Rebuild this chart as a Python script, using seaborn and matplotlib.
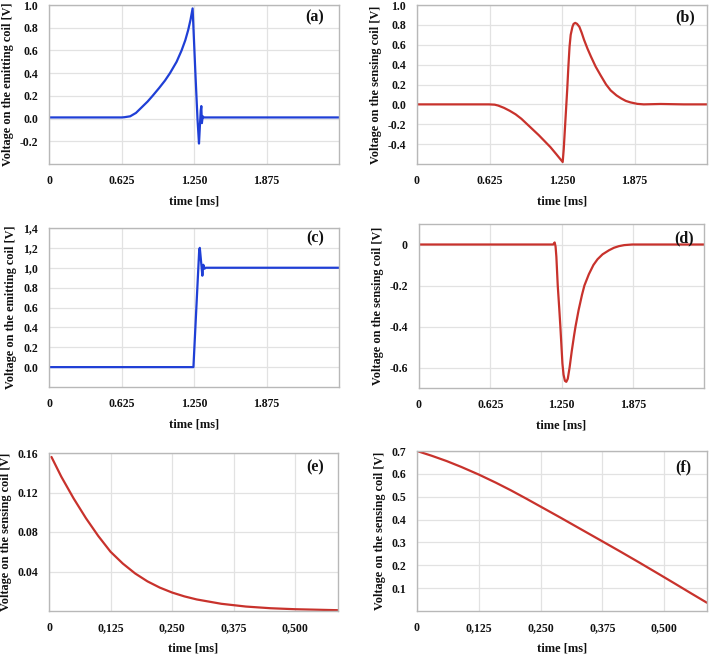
import numpy as np
import pandas as pd
import matplotlib
matplotlib.use("Agg")
import matplotlib.pyplot as plt
import seaborn as sns

# ---------------- data ----------------
t_a = [0.0, 0.625, 0.65, 0.70, 0.75, 0.80, 0.85, 0.893, 0.95, 1.00, 1.043,
       1.10, 1.143, 1.175, 1.20, 1.22, 1.238,
       1.262, 1.28, 1.293, 1.300, 1.308, 1.313, 1.318, 1.325, 1.335, 2.5]
v_a = [0.01, 0.01, 0.012, 0.02, 0.05, 0.10, 0.15, 0.20, 0.27, 0.335, 0.40,
       0.50, 0.60, 0.69, 0.78, 0.87, 0.97,
       0.40, 0.0, -0.22, -0.08, 0.07, 0.11, -0.04, 0.02, 0.01, 0.01]

t_b = [0.0, 0.62, 0.67, 0.70, 0.75, 0.80, 0.85, 0.90, 0.95, 1.00, 1.05,
       1.10, 1.15, 1.20, 1.256,
       1.265, 1.275, 1.285, 1.295, 1.305, 1.315, 1.325, 1.34, 1.35, 1.364,
       1.38, 1.40, 1.42, 1.44, 1.47, 1.50, 1.54, 1.584, 1.63, 1.67, 1.72,
       1.76, 1.80, 1.84, 1.90, 1.955, 2.10, 2.30, 2.5]
v_b = [0.0, 0.0, -0.003, -0.012, -0.035, -0.065, -0.10, -0.145, -0.20, -0.255, -0.31,
       -0.37, -0.43, -0.50, -0.58,
       -0.45, -0.25, -0.05, 0.15, 0.38, 0.58, 0.70, 0.78, 0.81, 0.82,
       0.81, 0.78, 0.72, 0.65, 0.56, 0.48, 0.38, 0.29, 0.20, 0.14, 0.09,
       0.06, 0.035, 0.02, 0.005, 0.0, 0.004, 0.0, 0.0]

t_c = [0.0, 1.245, 1.295, 1.300, 1.312, 1.322, 1.330, 1.340, 1.350, 2.5]
v_c = [0.0, 0.0, 1.18, 1.20, 1.05, 0.92, 1.03, 0.99, 1.0, 1.0]

t_d = [0.0, 1.177, 1.19, 1.198, 1.205, 1.217, 1.23, 1.240, 1.25, 1.258,
       1.268, 1.28, 1.292, 1.305, 1.321, 1.34, 1.36, 1.373, 1.40, 1.43,
       1.451, 1.49, 1.53, 1.566, 1.61, 1.667, 1.71, 1.754, 1.80, 1.869, 2.5]
v_d = [0.0, 0.0, 0.01, -0.01, -0.06, -0.20, -0.31, -0.40, -0.50, -0.58,
       -0.635, -0.665, -0.67, -0.655, -0.60, -0.52, -0.445, -0.40, -0.32, -0.245,
       -0.20, -0.145, -0.10, -0.072, -0.048, -0.028, -0.016, -0.008, -0.003, 0.0, 0.0]

t_e = [0.005, 0.025, 0.05, 0.075, 0.10, 0.125, 0.15, 0.175, 0.20, 0.225,
       0.25, 0.275, 0.30, 0.35, 0.40, 0.45, 0.50, 0.587]
v_e = [0.156, 0.136, 0.114, 0.094, 0.076, 0.060, 0.048, 0.038, 0.030, 0.0237,
       0.0187, 0.0148, 0.0117, 0.0073, 0.0045, 0.0028, 0.0018, 0.0008]

t_f = [0.0, 0.03, 0.06, 0.09, 0.125, 0.16, 0.19, 0.22, 0.25, 0.29, 0.33,
       0.375, 0.41, 0.45, 0.49, 0.525, 0.555, 0.587]
v_f = [0.700, 0.679, 0.656, 0.630, 0.597, 0.561, 0.528, 0.493, 0.457, 0.409, 0.360,
       0.305, 0.262, 0.212, 0.161, 0.116, 0.077, 0.036]

xt_ms = [0, 0.625, 1.25, 1.875]
xt_ms_lbl = ["0", "0.625", "1.250", "1.875"]
xt_us = [0, 0.125, 0.25, 0.375, 0.5]
xt_us_lbl = ["0", "0,125", "0,250", "0,375", "0,500"]

yt_a = [-0.2, 0.0, 0.2, 0.4, 0.6, 0.8, 1.0]
yt_a_lbl = ["-0.2", "0.0", "0.2", "0.4", "0.6", "0.8", "1.0"]
yt_b = [-0.4, -0.2, 0.0, 0.2, 0.4, 0.6, 0.8, 1.0]
yt_b_lbl = ["-0.4", "-0.2", "0.0", "0.2", "0.4", "0.6", "0.8", "1.0"]
yt_c = [0.0, 0.2, 0.4, 0.6, 0.8, 1.0, 1.2, 1.4]
yt_c_lbl = ["0.0", "0.2", "0.4", "0.6", "0.8", "1,0", "1,2", "1,4"]
yt_d = [0, -0.2, -0.4, -0.6]
yt_d_lbl = ["0", "-0.2", "-0.4", "-0.6"]
yt_e = [0.04, 0.08, 0.12, 0.16]
yt_e_lbl = ["0.04", "0.08", "0.12", "0.16"]
yt_f = [0.1, 0.2, 0.3, 0.4, 0.5, 0.6, 0.7]
yt_f_lbl = ["0.1", "0.2", "0.3", "0.4", "0.5", "0.6", "0.7"]

BLUE = "#1f3fd6"
RED = "#c8322c"

sns.set_style("whitegrid")
plt.rcParams["font.family"] = ["Liberation Serif", "DejaVu Serif"]

W, H = 710, 656
fig = plt.figure(figsize=(W / 100, H / 100), dpi=100)


def box(l, r, t, b):
    return [l / W, 1 - b / H, (r - l) / W, (b - t) / H]


panels = [
    dict(pos=box(49, 339, 5, 164), t=t_a, v=v_a, c=BLUE, xl=(0, 2.5), yl=(-0.4, 1.0),
         xt=xt_ms, xtl=xt_ms_lbl, yt=yt_a, ytl=yt_a_lbl,
         ylab="Voltage on the emitting coil [V]", tag="(a)", tp=(0.917, 0.925)),
    dict(pos=box(417, 707, 5, 164), t=t_b, v=v_b, c=RED, xl=(0, 2.5), yl=(-0.6, 1.0),
         xt=xt_ms, xtl=xt_ms_lbl, yt=yt_b, ytl=yt_b_lbl,
         ylab="Voltage on the sensing coil [V]", tag="(b)", tp=(0.924, 0.925)),
    dict(pos=box(49, 339, 228, 387), t=t_c, v=v_c, c=BLUE, xl=(0, 2.5), yl=(-0.2, 1.4),
         xt=xt_ms, xtl=xt_ms_lbl, yt=yt_c, ytl=yt_c_lbl,
         ylab="Voltage on the emitting coil [V]", tag="(c)", tp=(0.917, 0.937)),
    dict(pos=box(419, 704, 224, 388), t=t_d, v=v_d, c=RED, xl=(0, 2.5), yl=(-0.7, 0.1),
         xt=xt_ms, xtl=xt_ms_lbl, yt=yt_d, ytl=yt_d_lbl,
         ylab="Voltage on the sensing coil [V]", tag="(d)", tp=(0.93, 0.915)),
    dict(pos=box(49, 338, 453, 611), t=t_e, v=v_e, c=RED, xl=(0, 0.587), yl=(0, 0.16),
         xt=xt_us, xtl=xt_us_lbl, yt=yt_e, ytl=yt_e_lbl,
         ylab="Voltage on the sensing coil [V]", tag="(e)", tp=(0.92, 0.91)),
    dict(pos=box(417, 707, 451, 611), t=t_f, v=v_f, c=RED, xl=(0, 0.587), yl=(0, 0.7),
         xt=xt_us, xtl=xt_us_lbl, yt=yt_f, ytl=yt_f_lbl,
         ylab="Voltage on the sensing coil [V]", tag="(f)", tp=(0.917, 0.90)),
]

for p in panels:
    ax = fig.add_axes(p["pos"])
    df = pd.DataFrame({"t": p["t"], "v": p["v"]})
    sns.lineplot(data=df, x="t", y="v", ax=ax, color=p["c"], linewidth=1.6,
                 sort=False, estimator=None)
    ax.set_xlim(*p["xl"])
    ax.set_ylim(*p["yl"])
    ax.set_xticks(p["xt"])
    ax.set_xticklabels(p["xtl"], fontweight="bold")
    ax.set_yticks(p["yt"])
    ax.set_yticklabels(p["ytl"], fontweight="bold")
    ax.tick_params(axis="both", labelsize=8.5, length=0, pad=8, colors="#111111")
    ax.set_xlabel("time [ms]", fontsize=9, labelpad=6, color="#111111", fontweight="bold")
    ax.set_ylabel(p["ylab"], fontsize=8.8, labelpad=4, color="#111111", fontweight="bold")
    ax.grid(True, color="#e2e2e2", linewidth=0.9)
    for s in ax.spines.values():
        s.set_color("#b8b8b8")
        s.set_linewidth(1.0)
    ax.text(p["tp"][0], p["tp"][1], p["tag"], transform=ax.transAxes,
            ha="center", va="center", fontsize=11.5, fontweight="bold", color="#111111")

fig.savefig("out.png", dpi=100)
